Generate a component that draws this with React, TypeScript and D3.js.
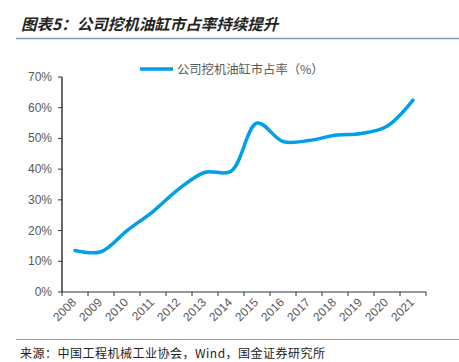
import React from "react";
import * as d3 from "d3";

const years = ["2008","2009","2010","2011","2012","2013","2014","2015","2016","2017","2018","2019","2020","2021"];
const share = [13.5, 13.1, 20.0, 26.2, 33.6, 39.0, 39.3, 55.0, 49.0, 49.3, 51.0, 51.6, 54.0, 62.5];
const yTicks = [0, 10, 20, 30, 40, 50, 60, 70];

const W = 459, H = 362;
const left = 62, right = 426, top = 77, bottom = 292;

export default function App() {
  const x = d3.scaleBand<string>().domain(years).range([left, right]);
  const y = d3.scaleLinear().domain([0, 70]).range([bottom, top]);
  const line = d3.line<number>()
    .x((_, i) => (x(years[i]) as number) + x.bandwidth() / 2)
    .y((d) => y(d))
    .curve(d3.curveCatmullRom.alpha(0.5));
  const gray = "#595959";
  const font = "'Noto Sans CJK SC', 'Noto Sans', sans-serif";
  return (
    <svg width={W} height={H} style={{ position: "absolute", left: 0, top: 0, background: "#fff" }}>
      <text x={21} y={30} fontFamily={font} fontSize={15.5} fontWeight="bold" fontStyle="italic" fill="#222">图表5：公司挖机油缸市占率持续提升</text>
      <line x1={16} x2={459} y1={38.5} y2={38.5} stroke="#7f9fba" strokeWidth={1.5} />
      {/* legend */}
      <line x1={140} x2={173} y1={69} y2={69} stroke="#00a0e9" strokeWidth={3.5} />
      <text x={177} y={73.5} fontFamily={font} fontSize={12.3} fill={gray}>公司挖机油缸市占率（%）</text>
      {/* y axis */}
      <line x1={left} x2={left} y1={top} y2={bottom} stroke={gray} strokeWidth={1.8} />
      {yTicks.map((t) => (
        <g key={t}>
          <line x1={left - 4} x2={left} y1={y(t)} y2={y(t)} stroke="#333" strokeWidth={1} />
          <text x={52} y={y(t) + 4} textAnchor="end" fontFamily="'Liberation Sans', Arial, sans-serif" fontSize={12} fill={gray}>{t}%</text>
        </g>
      ))}
      {/* x axis */}
      <line x1={left} x2={right} y1={bottom} y2={bottom} stroke="#333" strokeWidth={1.2} />
      {years.map((yr) => (
        <line key={"t" + yr} x1={(x(yr) as number)} x2={(x(yr) as number)} y1={bottom} y2={bottom + 4} stroke="#333" strokeWidth={1} />
      ))}
      <line x1={right} x2={right} y1={bottom} y2={bottom + 4} stroke="#333" strokeWidth={1} />
      {years.map((yr) => {
        const cx = (x(yr) as number) + x.bandwidth() / 2;
        return (
          <text key={yr} transform={`translate(${cx + 2},${bottom + 11}) rotate(-45)`} textAnchor="end" fontFamily="'Liberation Sans', Arial, sans-serif" fontSize={12} fill={gray}>{yr}</text>
        );
      })}
      <path d={line(share) as string} fill="none" stroke="#00a0e9" strokeWidth={3.5} strokeLinecap="round" />
      <line x1={16} x2={459} y1={339.5} y2={339.5} stroke="#7f9fba" strokeWidth={1} />
      <text x={20} y={358} fontFamily={font} fontSize={12} letterSpacing={0.5} fill="#222">来源：中国工程机械工业协会，Wind，国金证券研究所</text>
    </svg>
  );
}
